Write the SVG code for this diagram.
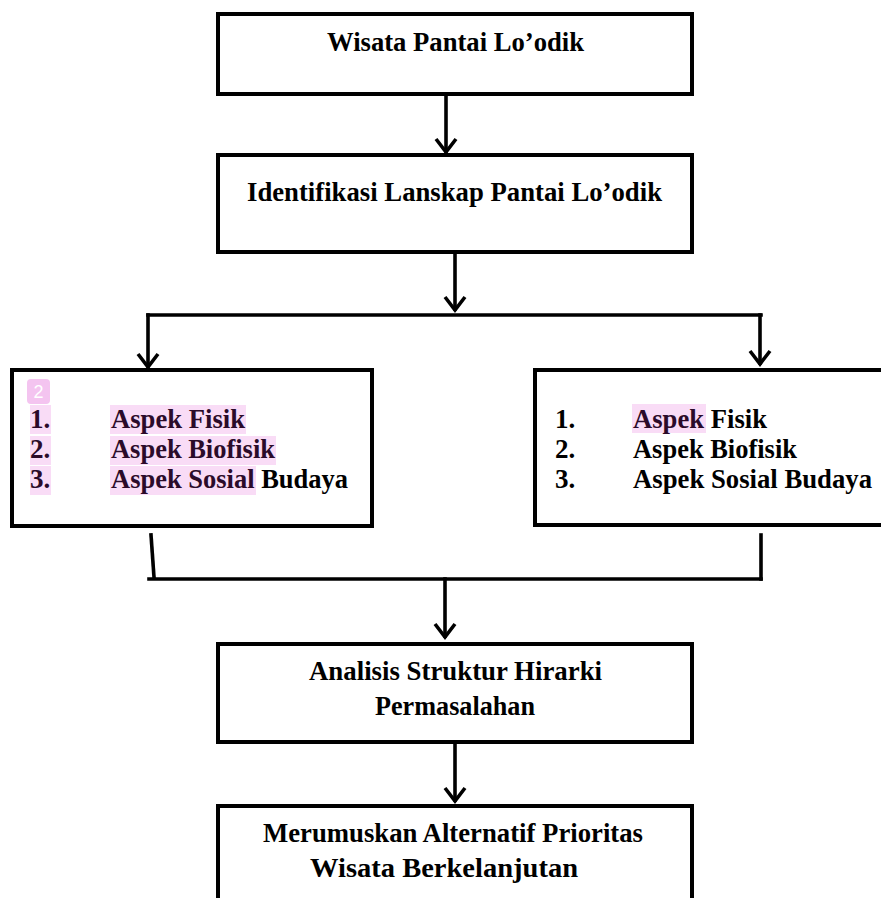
<svg xmlns="http://www.w3.org/2000/svg" width="881" height="898" viewBox="0 0 881 898">
<style>
.box{fill:#fff;stroke:#000;stroke-width:4}
.t{font-family:"Liberation Serif","Times New Roman",serif;font-weight:bold;font-size:27px;fill:#000}
.hl{fill:#f9dcf6}
.ht{fill:#2b0b2a}
.ln{fill:none;stroke:#000;stroke-width:3.6;stroke-linecap:square}
.ah{fill:none;stroke:#000;stroke-width:3.6;stroke-linejoin:miter;stroke-linecap:butt}
</style>
<rect width="881" height="898" fill="#fff"/>
<g id="connectors">
<line class="ln" x1="446" y1="96" x2="446" y2="151"/>
<polyline class="ah" points="436,139 446,152 456,139"/>
<line class="ln" x1="455" y1="254" x2="455" y2="309"/>
<polyline class="ah" points="445,297 455,310 465,297"/>
<line class="ln" x1="148" y1="315" x2="761" y2="315"/>
<line class="ln" x1="148" y1="315" x2="148" y2="366"/>
<polyline class="ah" points="138,354 148,367 158,354"/>
<line class="ln" x1="760" y1="315" x2="760" y2="363"/>
<polyline class="ah" points="750,351 760,364 770,351"/>
<line class="ln" x1="151" y1="535" x2="154" y2="577"/>
<line class="ln" x1="761" y1="535" x2="761" y2="579"/>
<line class="ln" x1="149" y1="579" x2="761" y2="579"/>
<line class="ln" x1="445" y1="579" x2="445" y2="636"/>
<polyline class="ah" points="435,624 445,637 455,624"/>
<line class="ln" x1="455" y1="744" x2="455" y2="800"/>
<polyline class="ah" points="445,788 455,801 465,788"/>
</g>
<g id="n1">
<rect class="box" x="218" y="14" width="474" height="80"/>
<text class="t" x="327" y="51" textLength="257" lengthAdjust="spacingAndGlyphs">Wisata Pantai Lo’odik</text>
</g>
<g id="n2">
<rect class="box" x="218" y="155" width="474" height="97"/>
<text class="t" x="247" y="201" textLength="415" lengthAdjust="spacingAndGlyphs">Identifikasi Lanskap Pantai Lo’odik</text>
</g>
<g id="n3">
<rect class="box" x="12" y="370" width="360" height="156"/>
<rect x="27" y="379" width="23" height="25" rx="4" fill="#f4c4f0"/>
<text x="38.5" y="398" text-anchor="middle" font-family="Liberation Sans,Arial,sans-serif" font-size="18" fill="#fff">2</text>
<rect class="hl" x="30" y="405" width="21" height="29"/>
<rect class="hl" x="30" y="436" width="21" height="29"/>
<rect class="hl" x="30" y="466" width="21" height="29"/>
<rect class="hl" x="110" y="405" width="136" height="29"/>
<rect class="hl" x="110" y="436" width="166" height="29"/>
<rect class="hl" x="110" y="466" width="146" height="29"/>
<text class="t ht" x="30" y="428">1.</text>
<text class="t ht" x="30" y="458">2.</text>
<text class="t ht" x="30" y="488">3.</text>
<text class="t ht" x="111" y="428" textLength="134" lengthAdjust="spacingAndGlyphs">Aspek Fisik</text>
<text class="t ht" x="111" y="458" textLength="164" lengthAdjust="spacingAndGlyphs">Aspek Biofisik</text>
<text class="t" x="111" y="488" textLength="237" lengthAdjust="spacingAndGlyphs"><tspan class="ht">Aspek Sosial</tspan> Budaya</text>
</g>
<g id="n4">
<rect class="box" x="535" y="370" width="360" height="155"/>
<rect class="hl" x="632" y="404" width="74" height="29"/>
<text class="t" x="555" y="428">1.</text>
<text class="t" x="555" y="458">2.</text>
<text class="t" x="555" y="488">3.</text>
<text class="t" x="633" y="428" textLength="134" lengthAdjust="spacingAndGlyphs"><tspan class="ht">Aspek</tspan> Fisik</text>
<text class="t" x="633" y="458" textLength="164" lengthAdjust="spacingAndGlyphs">Aspek Biofisik</text>
<text class="t" x="633" y="488" textLength="239" lengthAdjust="spacingAndGlyphs">Aspek Sosial Budaya</text>
</g>
<g id="n5">
<rect class="box" x="218" y="644" width="474" height="98"/>
<text class="t" x="309" y="680" textLength="293" lengthAdjust="spacingAndGlyphs">Analisis Struktur Hirarki</text>
<text class="t" x="375" y="715" textLength="160" lengthAdjust="spacingAndGlyphs">Permasalahan</text>
</g>
<g id="n6">
<rect class="box" x="218" y="806" width="474" height="110"/>
<text class="t" x="263" y="842" textLength="380" lengthAdjust="spacingAndGlyphs">Merumuskan Alternatif Prioritas</text>
<text class="t" x="310" y="877" textLength="268" lengthAdjust="spacingAndGlyphs">Wisata Berkelanjutan</text>
</g>
</svg>
